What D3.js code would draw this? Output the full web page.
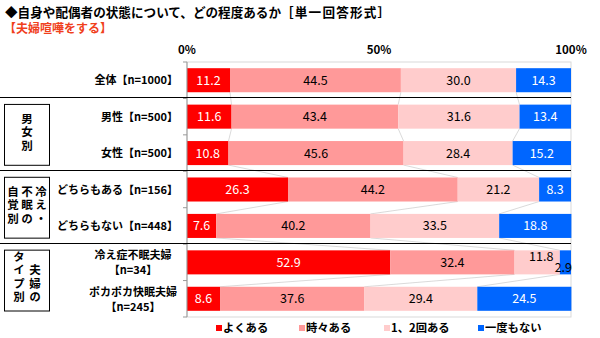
<!DOCTYPE html>
<html><head><meta charset="utf-8">
<script src="https://cdn.jsdelivr.net/npm/d3@7"></script>
<style>
body{margin:0;background:#fff;}
svg{display:block;}
text{font-family:"Noto Sans CJK JP","Noto Sans",sans-serif;}
</style></head>
<body>
<script>
const categories = ["全体【n=1000】","男性【n=500】","女性【n=500】","どちらもある【n=156】","どちらもない【n=448】","冷え症不眠夫婦\n【n=34】","ポカポカ快眠夫婦\n【n=245】"];
const seriesNames = ["よくある","時々ある","1、2回ある","一度もない"];
const often     = [11.2, 11.6, 10.8, 26.3, 7.6, 52.9, 8.6];
const sometimes = [44.5, 43.4, 45.6, 44.2, 40.2, 32.4, 37.6];
const onceTwice = [30.0, 31.6, 28.4, 21.2, 33.5, 11.8, 29.4];
const never     = [14.3, 13.4, 15.2, 8.3, 18.8, 2.9, 24.5];
const tickLabels = ["0%","50%","100%"];
const tickValues = [0, 50, 100];
const colors = ["#ff0000","#ff9999","#ffcccc","#0066ff"];
const groupLabels = [
  {cols:["男女別"], from:1, to:2},
  {cols:["自覚別","不眠の","冷え・"], from:3, to:4},
  {cols:["タイプ別","夫婦の"], from:5, to:6}
];

const W=600,H=338;
const svg=d3.select("body").append("svg").attr("width",W).attr("height",H);

const x=d3.scaleLinear().domain([0,100]).range([187,571]);
const y=d3.scaleBand().domain(categories).range([62,317]).paddingInner(0.34).paddingOuter(0.17);

// title
svg.append("text").attr("x",5).attr("y",16.5).attr("font-size",12.6).attr("font-weight","bold").attr("fill","#000")
  .text("◆自身や配偶者の状態について、どの程度あるか");
svg.append("text").attr("x",281).attr("y",16.5).attr("font-size",12.6).attr("font-weight","bold").attr("fill","#000")
  .attr("letter-spacing",1.2)
  .text("［単一回答形式］");
svg.append("text").attr("x",4).attr("y",33).attr("font-size",12).attr("font-weight","bold").attr("fill","#f0401c")
  .text("【夫婦喧嘩をする】");

// ticks
svg.selectAll(".tick").data(tickValues).enter().append("text")
  .attr("x",d=>x(d)).attr("y",54).attr("text-anchor","middle")
  .attr("font-size",11.5).attr("font-weight","bold").attr("font-family","Liberation Sans, Arial, sans-serif")
  .text((d,i)=>tickLabels[i]);

// frame
svg.append("rect").attr("x",x(0)).attr("y",62).attr("width",x(100)-x(0)).attr("height",255)
  .attr("fill","none").attr("stroke","#d9d9d9").attr("stroke-width",1);

const step=y.step();
const stacks = categories.map((c,i)=>{
  const vals=[often[i],sometimes[i],onceTwice[i],never[i]];
  let acc=0; return vals.map((v,k)=>{const s=acc; acc+=v; return {c,i,k,v,s,e:acc};});
});

// series lines
for(let i=0;i<categories.length-1;i++){
  for(let k=0;k<3;k++){
    const a=stacks[i][k], b=stacks[i+1][k];
    svg.append("line").attr("x1",x(a.e)).attr("x2",x(b.e))
      .attr("y1",y(categories[i])+y.bandwidth()).attr("y2",y(categories[i+1]))
      .attr("stroke","#d0d0d0").attr("stroke-width",0.8);
  }
}

// bars
const g=svg.append("g");
stacks.forEach(row=>{
  row.forEach(d=>{
    g.append("rect").attr("x",x(d.s)).attr("y",y(d.c)).attr("width",x(d.e)-x(d.s)).attr("height",y.bandwidth())
      .attr("fill",colors[d.k]);
  });
});

// value labels
stacks.forEach(row=>{
  row.forEach(d=>{
    let tx=(x(d.s)+x(d.e))/2, ty=y(d.c)+y.bandwidth()/2+4.5;
    let anchor="middle";
    if(d.v<5){ tx=x(d.e)+1; ty=y(d.c)+y.bandwidth()/2+10; anchor="end"; }
    else if(d.k===2 && d.v<15 && d.i===5){ ty=y(d.c)+y.bandwidth()/2-1; tx=(x(d.s)+x(d.e))/2+4; }
    svg.append("text").attr("x",tx).attr("y",ty).attr("text-anchor",anchor)
      .attr("font-size",12.5).attr("font-family","Liberation Sans, Arial, sans-serif")
      .attr("fill",(d.k===0||d.k===3)&&d.v>=5?"#fff":"#000")
      .text(d.v.toFixed(1));
  });
});

// axis line
svg.append("line").attr("x1",x(0)).attr("x2",x(0)).attr("y1",62).attr("y2",317).attr("stroke","#999");
for(let i=0;i<=categories.length;i++){
  const yy=62+step*i;
  svg.append("line").attr("x1",x(0)-4).attr("x2",x(0)).attr("y1",yy).attr("y2",yy).attr("stroke","#999");
}

// separators
[1,3,5].forEach(i=>{
  const yy=Math.round(62+step*i)-0.5;
  svg.append("line").attr("x1",0).attr("x2",x(100)).attr("y1",yy).attr("y2",yy).attr("stroke","#000").attr("stroke-width",1.2);
});

// category labels
categories.forEach(c=>{
  const lines=c.split("\n");
  const cy=y(c)+y.bandwidth()/2;
  if(lines.length===1){
    svg.append("text").attr("x",178).attr("y",cy+4).attr("text-anchor","end")
      .attr("font-size",11).attr("font-weight","bold").text(c);
  } else {
    lines.forEach((l,j)=>{
      svg.append("text").attr("x",133).attr("y",cy-3+j*15).attr("text-anchor","middle")
        .attr("font-size",11).attr("font-weight","bold").text(l);
    });
  }
});

// group boxes (vertical text)
groupLabels.forEach(gl=>{
  const top=62+step*gl.from+6, bottom=62+step*(gl.to+1)-6;
  svg.append("rect").attr("x",4.5).attr("y",top).attr("width",45).attr("height",bottom-top)
    .attr("fill","#fff").attr("stroke","#000").attr("stroke-width",1);
  const mid=(top+bottom)/2;
  const nc=gl.cols.length;
  gl.cols.forEach((col,ci)=>{
    const cx= 27 + (ci-(nc-1)/2)*(nc===3?14:16);
    const off = (nc===2 && ci===0) ? -3 : (nc===2 ? 4 : -2);
    svg.append("text").attr("x",cx).attr("y",mid+off)
      .style("writing-mode","vertical-rl").attr("text-anchor","middle")
      .attr("letter-spacing",2)
      .attr("font-size",11.5).attr("font-weight","bold").text(col);
  });
});

// legend
const lx=[216,299,384,478];
seriesNames.forEach((n,i)=>{
  svg.append("rect").attr("x",lx[i]).attr("y",325).attr("width",6).attr("height",6).attr("fill",colors[i]);
  svg.append("text").attr("x",lx[i]+7).attr("y",332).attr("font-size",11.3).attr("font-weight","bold").text(n);
});
</script>
</body></html>
